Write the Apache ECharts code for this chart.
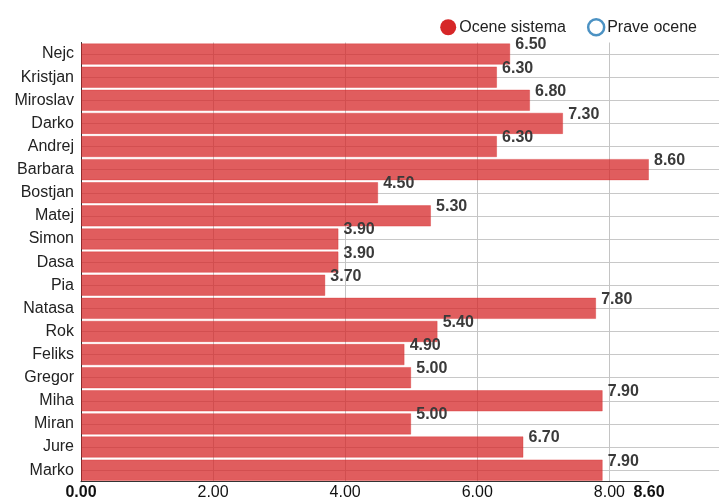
<!DOCTYPE html>
<html><head><meta charset="utf-8">
<script src="https://cdn.jsdelivr.net/npm/echarts@6/dist/echarts.min.js"></script>
<style>html,body{margin:0;padding:0;background:#fff}#c{width:719px;height:502px}</style>
</head><body><div id="c"></div>
<script>
const names = ['Nejc','Kristjan','Miroslav','Darko','Andrej','Barbara','Bostjan','Matej','Simon','Dasa','Pia','Natasa','Rok','Feliks','Gregor','Miha','Miran','Jure','Marko'];
const systemScores = [6.5,6.3,6.8,7.3,6.3,8.6,4.5,5.3,3.9,3.9,3.7,7.8,5.4,4.9,5.0,7.9,5.0,6.7,7.9];
const realScores = [];
const xMin = 0, xMax = 8.6, xStep = 2;

const chart = echarts.init(document.getElementById('c'), null, {renderer: 'canvas'});
const FONT = 'Liberation Sans, Arial, sans-serif';
chart.setOption({
  animation: false,
  textStyle: {fontFamily: FONT},
  legend: {
    right: 17, top: 13, itemWidth: 16, itemHeight: 16, itemGap: 21, icon: 'circle',
    textStyle: {fontSize: 16, color: '#222', fontFamily: FONT, padding: [0,0,0,-2]},
    data: [
      {name: 'Ocene sistema', itemStyle: {color: '#d62728', borderWidth: 0}},
      {name: 'Prave ocene', itemStyle: {color: '#fff', borderColor: '#1f77b4', borderWidth: 2.5}}
    ]
  },
  grid: [
    {left: 81, right: 70, top: 42.5, bottom: 20.3, containLabel: false},
    {left: 81, right: 0, top: 42.5, bottom: 20.3, containLabel: false}
  ],
  xAxis: [
    {type: 'value', gridIndex: 0, min: xMin, max: xMax, interval: xStep,
     axisLine: {show: true, lineStyle: {color: '#333', width: 1}},
     axisTick: {show: false},
     splitLine: {show: true, showMaxLine: false, lineStyle: {color: '#c4c4c4', width: 1}},
     axisLabel: {margin: 3, fontSize: 16, color: '#111', fontFamily: FONT,
       showMinLabel: true, showMaxLabel: true,
       formatter: function (v) {
         const s = v.toFixed(2);
         return (v === xMin || v === xMax) ? '{b|' + s + '}' : s;
       },
       rich: {b: {fontWeight: 'bold', fontSize: 16, color: '#111', fontFamily: FONT}}
     }},
    {type: 'value', gridIndex: 1, min: 0, max: 1, show: false, splitLine: {show: false}}
  ],
  yAxis: [
    {type: 'category', gridIndex: 0, data: names, inverse: true,
     axisLine: {show: true, lineStyle: {color: '#333', width: 1}},
     axisTick: {show: false},
     splitLine: {show: false},
     axisLabel: {margin: 7, fontSize: 16, color: '#222', fontFamily: FONT}},
    {type: 'category', gridIndex: 1, data: names, inverse: true,
     axisLine: {show: false}, axisTick: {show: false}, axisLabel: {show: false},
     splitLine: {show: true, alignWithLabel: true, lineStyle: {color: '#c8c8c8', width: 1}}}
  ],
  series: [
    {name: 'Ocene sistema', type: 'bar', xAxisIndex: 0, yAxisIndex: 0,
     data: systemScores, barCategoryGap: '7%',
     itemStyle: {color: 'rgba(214,39,40,0.75)', borderColor: 'rgba(214,39,40,0.35)', borderWidth: 1},
     label: {show: true, position: 'right', distance: 5, offset: [0, -9],
       formatter: function (p) { return p.value.toFixed(2); },
       fontSize: 16, fontWeight: 'bold', color: '#3a3a3a', fontFamily: FONT}},
    {name: 'Prave ocene', type: 'scatter', xAxisIndex: 0, yAxisIndex: 0, data: realScores,
     itemStyle: {color: '#fff', borderColor: '#1f77b4', borderWidth: 2.5}}
  ]
});
</script></body></html>
